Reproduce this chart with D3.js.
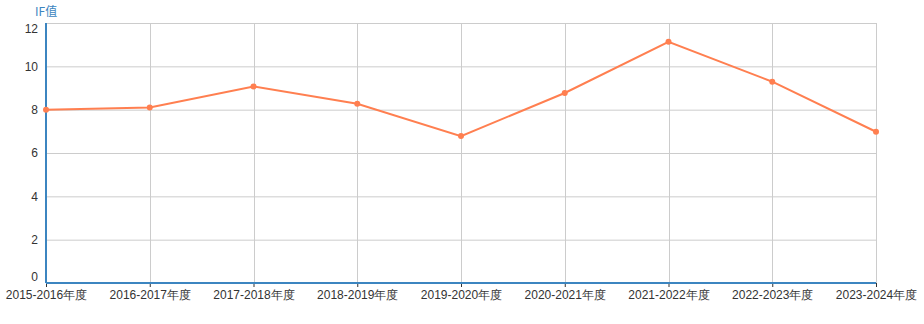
<!DOCTYPE html>
<html>
<head>
<meta charset="utf-8">
<script src="https://cdn.jsdelivr.net/npm/d3@7"></script>
<style>
  body { margin: 0; background: #fff; }
  svg { display: block; font-family: "Microsoft YaHei", "Noto Sans CJK SC", sans-serif; }
</style>
</head>
<body>
<div id="chart"></div>
<script>
const years = ['2015-2016年度', '2016-2017年度', '2017-2018年度', '2018-2019年度', '2019-2020年度',
               '2020-2021年度', '2021-2022年度', '2022-2023年度', '2023-2024年度'];
const ifValues = [8.0, 8.1, 9.07, 8.27, 6.78, 8.77, 11.13, 9.29, 6.98];
const yTicks = [0, 2, 4, 6, 8, 10, 12];

const width = 924, height = 324;
const margin = { top: 23, right: 48, bottom: 41, left: 46 };
const innerW = width - margin.left - margin.right;
const innerH = height - margin.top - margin.bottom;

const svg = d3.select('#chart').append('svg')
  .attr('width', width)
  .attr('height', height);

const g = svg.append('g')
  .attr('transform', 'translate(' + margin.left + ',' + margin.top + ')');

const x = d3.scalePoint().domain(years).range([0, innerW]);
const y = d3.scaleLinear().domain([0, 12]).range([innerH, 0]);

// grid
g.append('g').selectAll('line')
  .data(yTicks)
  .enter().append('line')
  .attr('x1', 0).attr('x2', innerW)
  .attr('y1', d => y(d) + 0.5).attr('y2', d => y(d) + 0.5)
  .attr('stroke', '#ccc');

g.append('g').selectAll('line')
  .data(years)
  .enter().append('line')
  .attr('x1', d => Math.round(x(d)) + 0.5).attr('x2', d => Math.round(x(d)) + 0.5)
  .attr('y1', 0).attr('y2', innerH)
  .attr('stroke', '#ccc');

// y axis labels
const yAxis = g.append('g').call(d3.axisLeft(y).tickValues(yTicks).tickSize(0).tickPadding(8));
yAxis.select('.domain').remove();
yAxis.selectAll('text')
  .attr('fill', '#333')
  .style('font-size', '12px')
  .attr('dy', d => d === 0 ? '-0.2em' : d === 12 ? '0.75em' : '0.32em');

// x axis
const xAxis = g.append('g')
  .attr('transform', 'translate(0,' + innerH + ')')
  .call(d3.axisBottom(x).tickSize(4).tickPadding(3));
xAxis.select('.domain').remove();
xAxis.selectAll('line').attr('stroke', '#333');
xAxis.selectAll('text').attr('fill', '#333').style('font-size', '12px');

// axis lines
g.append('line')
  .attr('x1', 0).attr('x2', innerW)
  .attr('y1', innerH).attr('y2', innerH)
  .attr('stroke', '#3c85c0').attr('stroke-width', 2);
g.append('line')
  .attr('x1', 0).attr('x2', 0)
  .attr('y1', 0).attr('y2', innerH)
  .attr('stroke', '#3c85c0').attr('stroke-width', 2);

// title
svg.append('text')
  .attr('x', 35).attr('y', 16)
  .attr('fill', '#3c85c0')
  .style('font-size', '12px')
  .text('IF值');

// line
const line = d3.line()
  .x((d, i) => x(years[i]))
  .y(d => y(d));

g.append('path')
  .datum(ifValues)
  .attr('d', line)
  .attr('fill', 'none')
  .attr('stroke', '#ff7f50')
  .attr('stroke-width', 2);

g.selectAll('.dot')
  .data(ifValues)
  .enter().append('circle')
  .attr('class', 'dot')
  .attr('cx', (d, i) => x(years[i]))
  .attr('cy', d => y(d))
  .attr('r', 3)
  .attr('fill', '#ff7f50');
</script>
</body>
</html>
